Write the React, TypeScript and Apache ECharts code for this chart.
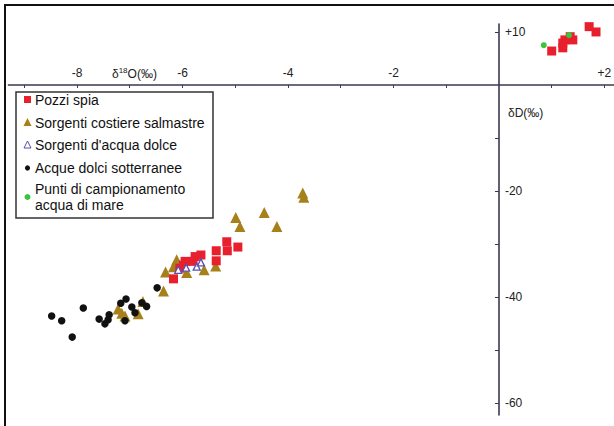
import React, { useEffect, useRef } from "react";
import * as echarts from "echarts";

// δ18O (‰) / δD (‰) pairs for each sample group
const pozziSpia: [number, number][] = [
  [-6.17, -36.6], [-6.05, -34.6], [-5.98, -34.0], [-5.95, -33.3], [-5.8, -33.3],
  [-5.76, -32.4], [-5.65, -32.1], [-5.36, -31.3], [-5.36, -33.2], [-5.16, -29.6],
  [-5.15, -31.3], [-4.95, -30.6],
  [1.0, 6.4], [1.21, 7.0], [1.21, 7.9], [1.25, 8.5], [1.4, 8.5], [1.35, 9.1],
  [1.71, 11.0], [1.84, 10.0],
];
const sorgentiCostiere: [number, number][] = [
  [-7.22, -42.3], [-7.15, -43.1], [-7.09, -43.6], [-6.84, -43.2], [-6.75, -40.9],
  [-6.36, -38.9], [-6.32, -35.3], [-6.17, -34.3], [-6.11, -33.0], [-5.92, -35.4],
  [-5.59, -34.9], [-5.37, -34.2], [-4.99, -25.0], [-4.91, -26.7], [-4.45, -24.1],
  [-4.21, -26.7], [-3.72, -20.4], [-3.7, -21.2],
];
const sorgentiDolce: [number, number][] = [
  [-6.08, -34.9], [-5.93, -34.5], [-5.73, -34.3], [-5.65, -33.5],
];
const acqueDolci: [number, number][] = [
  [-8.48, -43.6], [-8.29, -44.5], [-8.09, -47.6], [-7.88, -42.1], [-7.58, -44.2],
  [-7.47, -45.1], [-7.41, -44.3], [-7.39, -43.4], [-7.17, -41.2], [-7.07, -40.4],
  [-7.09, -44.5], [-6.96, -41.9], [-6.9, -43.0], [-6.77, -41.1], [-6.68, -41.8],
  [-6.48, -38.3],
];
const acquaMare: [number, number][] = [
  [0.85, 7.5], [1.33, 9.4],
];

const xTicks = [-9, -8, -7, -6, -5, -4, -3, -2, -1, 1, 2];
const xTickLabels = [-8, -6, -4, -2, 2];
const yTicks = [10, -10, -20, -30, -40, -50, -60];
const yTickLabels = [10, -20, -40, -60];

const legendItems = [
  "Pozzi spia",
  "Sorgenti costiere salmastre",
  "Sorgenti d'acqua dolce",
  "Acque dolci sotterranee",
  "Punti di campionamento\nacqua di mare",
];

const FONT = "'Liberation Sans', Arial, sans-serif";
const AXIS_COLOR = "#3b3850";
const RED = "#e8202e";
const BROWN = "#a6801a";
const BLUE = "#5a4fb0";
const GREEN = "#3cc43c";

// plot frame in pixels; axes cross at the data origin inside it
const GRID = { left: 8.4, top: 24, width: 606.6, height: 391 };
const X_RANGE = [-9.3, 2.2];
const Y_RANGE = [-62.3, 11.5];
const originX = GRID.left + ((0 - X_RANGE[0]) / (X_RANGE[1] - X_RANGE[0])) * GRID.width;
const originY = GRID.top + ((Y_RANGE[1] - 0) / (Y_RANGE[1] - Y_RANGE[0])) * GRID.height;

const signed = (v: number) => (v > 0 ? "+" + v : String(v));

export default function App() {
  const ref = useRef<HTMLDivElement>(null);

  useEffect(() => {
    if (!ref.current) return;
    const chart = echarts.init(ref.current, null, { renderer: "svg" });

    const legendText = (text: string, x: number, y: number) => ({
      type: "text",
      style: {
        x,
        y,
        text,
        fill: "#111",
        font: `14px ${FONT}`,
        lineHeight: 16,
        verticalAlign: "top",
      },
    });

    chart.setOption({
      animation: false,
      backgroundColor: "#fff",
      grid: { ...GRID, containLabel: false, outerBoundsMode: "none" },
      xAxis: {
        type: "value",
        min: X_RANGE[0],
        max: X_RANGE[1],
        position: "top",
        offset: -(originY - GRID.top),
        axisLine: { onZero: false, lineStyle: { color: AXIS_COLOR, width: 1.6 } },
        axisTick: {
          show: true,
          length: 3,
          inside: true,
          customValues: xTicks,
          lineStyle: { color: AXIS_COLOR },
        },
        axisLabel: {
          margin: 6,
          customValues: xTickLabels,
          formatter: signed,
          color: "#222",
          fontSize: 12,
          fontFamily: FONT,
        },
        splitLine: { show: false },
      },
      yAxis: {
        type: "value",
        min: Y_RANGE[0],
        max: Y_RANGE[1],
        position: "left",
        offset: -(originX - GRID.left),
        axisLine: { onZero: false, lineStyle: { color: AXIS_COLOR, width: 1.6 } },
        axisTick: {
          show: true,
          length: 4,
          customValues: yTicks,
          lineStyle: { color: AXIS_COLOR },
        },
        axisLabel: {
          inside: true,
          margin: 6,
          customValues: yTickLabels,
          formatter: signed,
          color: "#222",
          fontSize: 12,
          fontFamily: FONT,
        },
        splitLine: { show: false },
      },
      series: [
        {
          name: "Sorgenti costiere salmastre",
          type: "scatter",
          symbol: "triangle",
          symbolSize: 11,
          itemStyle: { color: BROWN, opacity: 1 },
          data: sorgentiCostiere,
        },
        {
          name: "Pozzi spia",
          type: "scatter",
          symbol: "rect",
          symbolSize: 9,
          itemStyle: { color: RED, opacity: 1 },
          data: pozziSpia,
        },
        {
          name: "Sorgenti d'acqua dolce",
          type: "scatter",
          symbol: "triangle",
          symbolSize: 7,
          itemStyle: { color: "#fff", borderColor: BLUE, borderWidth: 1.3, opacity: 1 },
          data: sorgentiDolce,
        },
        {
          name: "Acque dolci sotterranee",
          type: "scatter",
          symbol: "circle",
          symbolSize: 7.5,
          itemStyle: { color: "#111", opacity: 1 },
          data: acqueDolci,
        },
        {
          name: "Punti di campionamento acqua di mare",
          type: "scatter",
          symbol: "circle",
          symbolSize: 6,
          itemStyle: { color: GREEN, opacity: 1 },
          data: acquaMare,
        },
      ],
      graphic: [
        // outer frame
        {
          type: "rect",
          shape: { x: 5, y: 5, width: 700, height: 500 },
          style: { fill: "none", stroke: "#111", lineWidth: 2 },
          silent: true,
        },
        // axis names
        {
          type: "text",
          style: {
            x: 112,
            y: 66,
            text: "{a|δ}{s|18}{a|O(‰)}",
            rich: {
              a: { fontSize: 12, fontFamily: FONT, fill: "#222" },
              s: { fontSize: 8, fontFamily: FONT, fill: "#222", padding: [0, 0, 7, 0] },
            },
          },
        },
        {
          type: "text",
          style: { x: 508, y: 107, text: "δD(‰)", font: `12px ${FONT}`, fill: "#222" },
        },
        // legend box
        {
          type: "group",
          z: 10,
          children: [
            {
              type: "rect",
              shape: { x: 16, y: 92, width: 197, height: 126 },
              style: { fill: "#fff", stroke: "#333", lineWidth: 1.5 },
            },
            { type: "rect", shape: { x: 24, y: 96, width: 7, height: 7 }, style: { fill: RED } },
            {
              type: "polygon",
              shape: { points: [[27.5, 118], [23.5, 126], [31.5, 126]] },
              style: { fill: BROWN },
            },
            {
              type: "polygon",
              shape: { points: [[27.5, 141], [24, 148], [31, 148]] },
              style: { fill: "#fff", stroke: BLUE, lineWidth: 1 },
            },
            { type: "circle", shape: { cx: 27.5, cy: 168, r: 2.6 }, style: { fill: "#111" } },
            { type: "circle", shape: { cx: 27.5, cy: 197, r: 3 }, style: { fill: GREEN } },
            legendText(legendItems[0], 35, 92),
            legendText(legendItems[1], 35, 115),
            legendText(legendItems[2], 35, 137),
            legendText(legendItems[3], 35, 160),
            legendText(legendItems[4], 35, 181),
          ],
        },
      ],
    });

    return () => chart.dispose();
  }, []);

  return (
    <div
      ref={ref}
      style={{ position: "fixed", left: 0, top: 0, width: 614, height: 426 }}
    />
  );
}
